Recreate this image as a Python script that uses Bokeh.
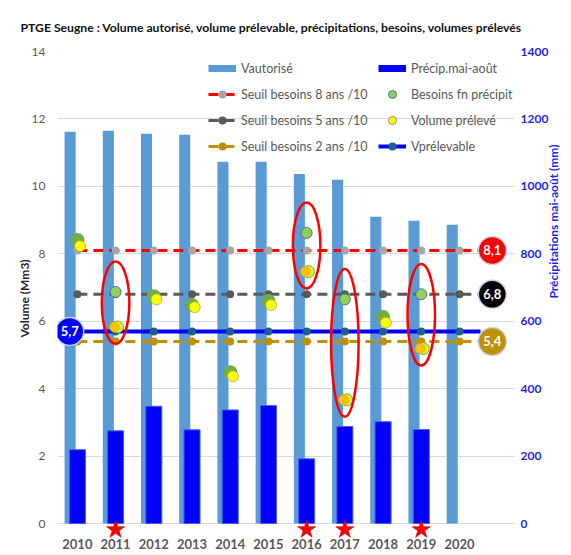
import math
from bokeh.plotting import figure
from bokeh.models import Range1d, LinearAxis, FixedTicker, Legend, LegendItem
from bokeh.core.properties import value
from bokeh.embed import file_html
from bokeh.resources import INLINE

# ---------------- data ----------------
years = [2010, 2011, 2012, 2013, 2014, 2015, 2016, 2017, 2018, 2019, 2020]
v_autorise = [11.62, 11.65, 11.56, 11.53, 10.73, 10.73, 10.37, 10.20, 9.10, 8.98, 8.86]
precip_years = [2010, 2011, 2012, 2013, 2014, 2015, 2016, 2017, 2018, 2019]
precip = [219, 275, 348, 278, 337, 350, 192, 288, 302, 279]
point_years = [2010, 2011, 2012, 2013, 2014, 2015, 2016, 2017, 2018, 2019]
besoins = [8.41, 6.87, 6.74, 6.48, 4.49, 6.60, 8.62, 6.65, 6.13, 6.80]
preleve = [8.23, 5.83, 6.65, 6.42, 4.37, 6.48, 7.47, 3.67, 5.96, 5.19]
seuil_8 = 8.1
seuil_5 = 6.8
seuil_2 = 5.4
v_prelevable = 5.7
highlight_years = [2011, 2016, 2017, 2019]
left_ticks = [0, 2, 4, 6, 8, 10, 12, 14]
right_ticks = [0, 200, 400, 600, 800, 1000, 1200, 1400]

TITLE = "PTGE Seugne : Volume autorisé, volume prélevable, précipitations, besoins, volumes prélevés"
FONT = "Lato"
NAN = float("nan")

def fr(v):
    return f"{v:.1f}".replace(".", ",")

p = figure(width=571, height=555, output_backend="svg", toolbar_location=None,
           x_range=Range1d(2009.48, 2021.44), y_range=Range1d(-0.65, 14),
           min_border_left=57, min_border_right=56, min_border_top=51, min_border_bottom=10)
p.extra_y_ranges = {"precip": Range1d(-65, 1400)}
p.outline_line_color = None
p.background_fill_color = "white"
p.border_fill_color = "white"

# title
p.title.text = TITLE
p.title.text_font = FONT
p.title.text_font_size = "12.2px"
p.title.text_font_style = "bold"
p.title.text_color = "#111111"
p.title.align = "left"
p.title.offset = -37
p.title.standoff = 33

# grid
p.xgrid.visible = False
p.ygrid.ticker = FixedTicker(ticks=left_ticks)
p.ygrid.grid_line_color = "#D9D9D9"
p.ygrid.grid_line_width = 1

def bare(ax):
    ax.axis_line_color = None
    ax.major_tick_line_color = None
    ax.minor_tick_line_color = None
    ax.major_tick_out = 0
    ax.major_tick_in = 0
    ax.minor_tick_out = 0
    ax.minor_tick_in = 0

# axes
p.xaxis.ticker = FixedTicker(ticks=years)
bare(p.xaxis[0])
p.xaxis.axis_label = None
p.xaxis.axis_label_standoff = 0
p.xaxis.major_label_standoff = -7
p.xaxis.major_label_text_font = FONT
p.xaxis.major_label_text_font_size = "13px"
p.xaxis.major_label_text_font_style = "bold"
p.xaxis.major_label_text_color = "#595959"

p.yaxis.ticker = FixedTicker(ticks=left_ticks)
bare(p.yaxis[0])
p.yaxis.major_label_standoff = 12
p.yaxis.major_label_text_font = FONT
p.yaxis.major_label_text_font_size = "12px"
p.yaxis.major_label_text_color = "#595959"
p.yaxis.axis_label = "Volume (Mm3)"
p.yaxis.axis_label_text_font = FONT
p.yaxis.axis_label_text_font_size = "12px"
p.yaxis.axis_label_text_font_style = "bold"
p.yaxis.axis_label_text_color = "#262626"
p.yaxis.axis_label_standoff = -3

ax_r = LinearAxis(y_range_name="precip", ticker=FixedTicker(ticks=right_ticks),
                  axis_label="Précipitations mai-août (mm)")
bare(ax_r)
ax_r.major_label_standoff = 6
ax_r.major_label_text_font = FONT
ax_r.major_label_text_font_size = "12px"
ax_r.major_label_text_font_style = "bold"
ax_r.major_label_text_color = "#1F1FF0"
ax_r.axis_label_text_font = FONT
ax_r.axis_label_text_font_size = "12px"
ax_r.axis_label_text_font_style = "bold"
ax_r.axis_label_text_color = "#1F1FF0"
ax_r.axis_label_standoff = 2
ax_r.axis_label_orientation = math.pi / 2
p.add_layout(ax_r, "right")

# bars
p.vbar(x=[y - 0.19 for y in years], top=v_autorise, bottom=0, width=0.29,
       fill_color="#5B9BD5", line_color=None)
p.vbar(x=precip_years, top=precip, bottom=0, width=0.42, fill_color="#0000FF",
       line_color="#4A5CE8", line_width=1, y_range_name="precip")

# threshold lines
x_end = years[-1] + 0.55
n = len(years)

def seuil(val, color, mcolor, dash, lw, x_start):
    lr = p.line([x_start, x_end], [val, val], line_color=color, line_width=lw, line_dash=dash)
    mr = p.scatter(years, [val] * n, size=8, fill_color=mcolor, line_color=None)
    return lr, mr

l8, m8 = seuil(seuil_8, "#FF0000", "#A6A6A6", "10 6", 3, years[0])
l5, m5 = seuil(seuil_5, "#595959", "#595959", "10 6", 3, years[0])
l2, m2 = seuil(seuil_2, "#BF9000", "#BF9000", "10 6", 3, years[0])
lv, mv = seuil(v_prelevable, "#0000FF", "#1F5F8B", "solid", 4, years[0] - 0.2)

# points
hl = set(highlight_years)
nx = [y for y in point_years if y not in hl]
nb = [b for y, b in zip(point_years, besoins) if y not in hl]
npv = [v for y, v in zip(point_years, preleve) if y not in hl]
hx = [y for y in point_years if y in hl]
hb = [b for y, b in zip(point_years, besoins) if y in hl]
hpv = [v for y, v in zip(point_years, preleve) if y in hl]

p.scatter(nx, nb, size=14, fill_color="#70AD47", line_color=None)
p.scatter([x + 0.07 for x in nx], npv, size=11, fill_color="#FFFF00", line_color="#A5A540", line_width=0.8)
p.scatter([x + 0.05 for x in hx], hpv, size=12, fill_color="#E2F030", line_color="#70AD47", line_width=1)
p.scatter([x - 0.03 for x in hx], hpv, size=10, fill_color="#FFC000", line_color="#E0A800", line_width=0.5)
p.scatter(hx, hb, size=11, fill_color="#92D050", line_color="#4472C4", line_width=1)

# red ellipses around highlighted years
ecy = [(b + v) / 2 + 0.2 for b, v in zip(hb, hpv)]
eh = [abs(b - v) + 1.4 for b, v in zip(hb, hpv)]
p.ellipse(x=hx, y=ecy, width=0.72, height=eh, fill_color=None, line_color="#FF0000", line_width=2.5)

# value badges
lab_x = years[-1] + 0.86
bx = [lab_x, lab_x, lab_x, years[0] - 0.2]
by = [seuil_8, seuil_5, seuil_2, v_prelevable]
bc = ["#FF0000", "#000000", "#BF9000", "#0000FF"]
p.scatter(bx, by, size=28, fill_color=bc, line_color="#C8D2E0", line_width=1.5)
p.text(bx, by, text=[fr(v) for v in by], text_align="center", text_baseline="middle",
       text_color="white", text_font=value(FONT), text_font_size="13px", text_font_style="bold")

# stars
p.scatter(highlight_years, [-0.18] * len(highlight_years), marker="star", size=19,
          fill_color="#FF0000", line_color="#C00000", line_width=0.6)

# legend-only renderers (no visible data)
d_aut = p.line([NAN], [NAN], line_color="#5B9BD5", line_width=7)
d_pre = p.line([NAN], [NAN], line_color="#0000FF", line_width=7)
d_bes = p.scatter([NAN], [NAN], size=11, fill_color="#92D050", line_color="#4472C4", line_width=1)
d_vol = p.scatter([NAN], [NAN], size=11, fill_color="#FFFF00", line_color="#8C8C8C", line_width=1)

leg1 = Legend(items=[
    LegendItem(label="Vautorisé", renderers=[d_aut]),
    LegendItem(label="Seuil besoins 8 ans /10", renderers=[l8, m8]),
    LegendItem(label="Seuil besoins 5 ans /10", renderers=[l5, m5]),
    LegendItem(label="Seuil besoins 2 ans /10", renderers=[l2, m2]),
], location=(151, 389))
leg2 = Legend(items=[
    LegendItem(label="Précip.mai-août", renderers=[d_pre]),
    LegendItem(label="Besoins fn précipit", renderers=[d_bes]),
    LegendItem(label="Volume prélevé", renderers=[d_vol]),
    LegendItem(label="Vprélevable", renderers=[lv, mv]),
], location=(321, 389))
for lg in (leg1, leg2):
    lg.padding = 0
    lg.margin = 0
    lg.spacing = 6
    lg.glyph_height = 20
    lg.glyph_width = 28
    lg.label_height = 20
    lg.label_standoff = 5
    lg.label_text_font = FONT
    lg.label_text_font_size = "12.5px"
    lg.label_text_color = "#595959"
    lg.border_line_color = None
    lg.background_fill_alpha = 0
    p.add_layout(lg)

open("out.html", "w").write(file_html(p, INLINE))
